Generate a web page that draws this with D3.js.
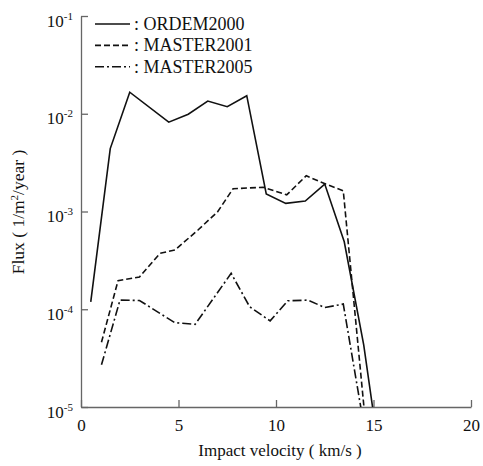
<!DOCTYPE html>
<html>
<head>
<meta charset="utf-8">
<script src="https://cdn.jsdelivr.net/npm/d3@7"></script>
</head>
<body style="margin:0;background:#fff">
<div id="chart"></div>
<script>
var width = 483,
    height = 466,
    margin = {top: 16, right: 12, bottom: 59, left: 81},
    serif = "'Liberation Serif', 'Times New Roman', serif";

// values
var ordemV    = [0.5, 1.5, 2.5, 4.5, 5.5, 6.5, 7.5, 8.5, 9.5, 10.5, 11.5, 12.5, 13.5, 14.5, 15.5];
var ordemFlux = [1.19e-4, 4.4e-3, 1.66e-2, 8.2e-3, 9.9e-3, 1.35e-2, 1.18e-2, 1.53e-2, 1.51e-3, 1.21e-3, 1.28e-3, 1.91e-3, 4.9e-4, 4.3e-5, 1.7e-6];

var master01V    = [1.05, 1.9, 3.0, 4.05, 4.82, 6.0, 7.0, 7.8, 9.35, 10.55, 11.55, 12.55, 13.45, 14.5, 15.5];
var master01Flux = [4.6e-5, 1.96e-4, 2.14e-4, 3.73e-4, 4.04e-4, 6.47e-4, 9.9e-4, 1.71e-3, 1.77e-3, 1.48e-3, 2.32e-3, 1.91e-3, 1.63e-3, 1.05e-5, 1e-7];

var master05V    = [1.05, 2.0, 3.0, 4.8, 5.85, 7.7, 8.65, 9.7, 10.6, 11.65, 12.5, 13.45, 14.5];
var master05Flux = [2.7e-5, 1.24e-4, 1.23e-4, 7.3e-5, 7.0e-5, 2.33e-4, 1.06e-4, 7.6e-5, 1.22e-4, 1.24e-4, 1.04e-4, 1.13e-4, 6.6e-6];

var seriesNames = ["ORDEM2000", "MASTER2001", "MASTER2005"];
var dashes = [null, "6,3", "9,3,2,3"];

var xTicks = [0, 5, 10, 15, 20];
var yTicks = [1e-5, 1e-4, 1e-3, 1e-2, 1e-1];
var yExps  = ["-5", "-4", "-3", "-2", "-1"];

var svg = d3.select("#chart").append("svg")
    .attr("width", width)
    .attr("height", height)
    .style("font-family", serif);

var x = d3.scaleLinear().domain([0, 20]).range([margin.left, width - margin.right]);
var y = d3.scaleLog().domain([1e-5, 1e-1]).range([height - margin.bottom, margin.top]);

svg.append("clipPath").attr("id", "plotclip")
  .append("rect")
    .attr("x", x(0)).attr("y", y(1e-1))
    .attr("width", x(20) - x(0)).attr("height", y(1e-5) - y(1e-1));

// axes, ticks pointing inward
var xAxis = svg.append("g")
    .attr("transform", "translate(0," + y(1e-5) + ")")
    .call(d3.axisBottom(x).tickValues(xTicks).tickSize(-7).tickSizeOuter(0).tickPadding(12));

var yAxis = svg.append("g")
    .attr("transform", "translate(" + x(0) + ",0)")
    .call(d3.axisLeft(y).tickValues(yTicks).tickSize(-7).tickSizeOuter(0).tickFormat(""));

[xAxis, yAxis].forEach(function(g) {
  g.attr("font-family", serif);
  g.select(".domain").attr("stroke", "#666").attr("stroke-width", 1.3);
  g.selectAll(".tick line").attr("stroke", "#666").attr("stroke-width", 1.3);
});
xAxis.selectAll(".tick text")
    .style("font-family", serif)
    .style("font-size", "17px")
    .attr("fill", "#111");

// y tick labels 10^n
yTicks.forEach(function(t, i) {
  var lab = svg.append("text")
      .attr("x", x(0) - 8)
      .attr("y", y(t) + 10.5)
      .attr("text-anchor", "end")
      .attr("fill", "#111")
      .style("font-family", serif)
      .style("font-size", "17px");
  lab.append("tspan").text("10");
  lab.append("tspan").text(yExps[i]).attr("dy", -7).style("font-size", "11px");
});

// series
var line = d3.line()
    .x(function(d) { return x(d[0]); })
    .y(function(d) { return y(d[1]); });

var allSeries = [
  d3.zip(ordemV, ordemFlux),
  d3.zip(master01V, master01Flux),
  d3.zip(master05V, master05Flux)
];

svg.append("g").attr("clip-path", "url(#plotclip)")
  .selectAll("path")
  .data(allSeries)
  .enter()
  .append("path")
    .attr("d", line)
    .attr("fill", "none")
    .attr("stroke", "#111")
    .attr("stroke-width", 1.6)
    .attr("stroke-dasharray", function(d, i) { return dashes[i]; });

// legend
var legend = svg.selectAll(".legend")
    .data(seriesNames)
    .enter()
    .append("g")
    .attr("transform", function(d, i) { return "translate(95," + (24 + i * 21.4) + ")"; });

legend.append("line")
    .attr("x1", 0).attr("x2", 35)
    .attr("stroke", "#111")
    .attr("stroke-width", 1.6)
    .attr("stroke-dasharray", function(d, i) { return dashes[i]; });

legend.append("text")
    .attr("x", 39)
    .attr("y", 5.8)
    .attr("fill", "#111")
    .style("font-family", serif)
    .style("font-size", "18px")
    .text(function(d) { return ": " + d; });

// axis titles
svg.append("text")
    .attr("x", 280)
    .attr("y", 456)
    .attr("text-anchor", "middle")
    .attr("fill", "#111")
    .style("font-family", serif)
    .style("font-size", "17px")
    .text("Impact velocity ( km/s )");

var yl = svg.append("text")
    .attr("transform", "translate(24,212) rotate(-90)")
    .attr("text-anchor", "middle")
    .attr("fill", "#111")
    .style("font-family", serif)
    .style("font-size", "17.5px");
yl.append("tspan").text("Flux ( 1/m");
yl.append("tspan").text("2").attr("dy", -6).style("font-size", "11px");
yl.append("tspan").text("/year )").attr("dy", 6);
</script>
</body>
</html>
